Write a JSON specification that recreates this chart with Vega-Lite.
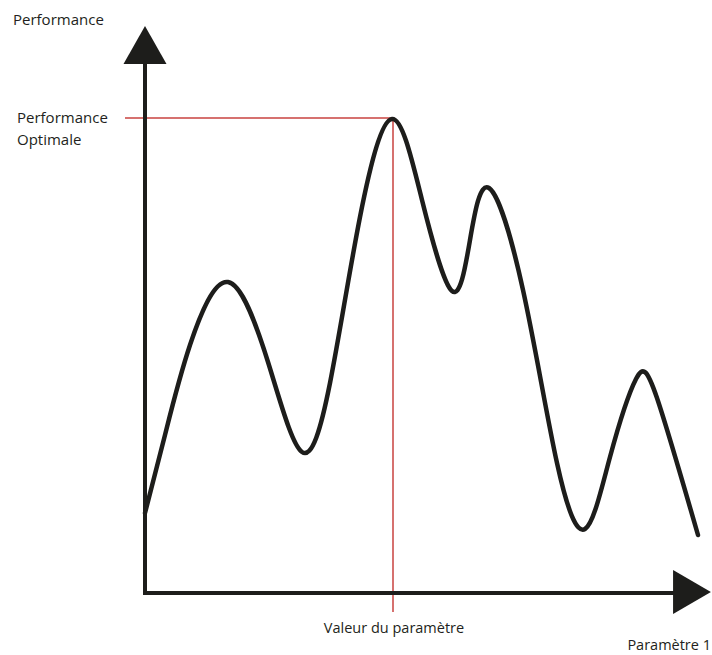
{
  "$schema": "https://vega.github.io/schema/vega-lite/v6.json",
  "width": 712,
  "height": 655,
  "autosize": "none",
  "padding": 0,
  "background": "white",
  "config": {"view": {"stroke": null}},
  "datasets": {
    "curve": [
      {"x": 0, "y": 80}, {"x": 20, "y": 158}, {"x": 45, "y": 248}, {"x": 83, "y": 311},
      {"x": 123, "y": 231}, {"x": 157, "y": 141}, {"x": 185, "y": 210}, {"x": 215, "y": 376},
      {"x": 247, "y": 474}, {"x": 277, "y": 393}, {"x": 307, "y": 302}, {"x": 325, "y": 353},
      {"x": 344, "y": 405}, {"x": 378, "y": 303}, {"x": 412, "y": 130}, {"x": 440, "y": 64},
      {"x": 465, "y": 136}, {"x": 491, "y": 214}, {"x": 512, "y": 195},
      {"x": 553, "y": 58}
    ],
    "guides": [
      {"x": -20, "x2": 248, "y": 475, "y2": 475},
      {"x": 248, "x2": 248, "y": 475, "y2": -19}
    ],
    "axes": [
      {"x": 0, "x2": 0, "y": 0, "y2": 531},
      {"x": 0, "x2": 530, "y": 0, "y2": 0}
    ],
    "arrowUp": [{"x": 0, "y": 548}],
    "arrowRight": [{"x": 547, "y": 1}],
    "labelsLeft": [
      {"x": -132, "y": 568, "label": ["Performance"]},
      {"x": -128, "y": 470, "label": ["Performance", "Optimale"]}
    ],
    "labelsCenter": [{"x": 249, "y": -40, "label": "Valeur du paramètre"}],
    "labelsRight": [{"x": 566, "y": -57, "label": "Paramètre 1"}]
  },
  "encoding": {
    "x": {"field": "x", "type": "quantitative", "scale": {"domain": [-145, 567], "nice": false, "zero": false}, "axis": null},
    "y": {"field": "y", "type": "quantitative", "scale": {"domain": [-62, 593], "nice": false, "zero": false}, "axis": null}
  },
  "layer": [
    {
      "data": {"name": "guides"},
      "mark": {"type": "rule", "color": "#c9423f", "strokeWidth": 1.5},
      "encoding": {"x2": {"field": "x2"}, "y2": {"field": "y2"}}
    },
    {
      "data": {"name": "axes"},
      "mark": {"type": "rule", "color": "#1d1d1b", "strokeWidth": 4, "strokeCap": "square"},
      "encoding": {"x2": {"field": "x2"}, "y2": {"field": "y2"}}
    },
    {
      "data": {"name": "curve"},
      "mark": {"type": "line", "interpolate": "natural", "color": "#1d1d1b", "strokeWidth": 4.5, "strokeCap": "round", "strokeJoin": "round"},
      "encoding": {"order": {"field": "x", "type": "quantitative"}}
    },
    {
      "data": {"name": "arrowUp"},
      "mark": {"type": "point", "shape": "M0,-0.88L1,0.88L-1,0.88Z", "size": 1849, "filled": true, "color": "#1d1d1b", "opacity": 1, "strokeWidth": 0}
    },
    {
      "data": {"name": "arrowRight"},
      "mark": {"type": "point", "shape": "M-0.86,-1L0.86,0L-0.86,1Z", "size": 1936, "filled": true, "color": "#1d1d1b", "opacity": 1, "strokeWidth": 0}
    },
    {
      "data": {"name": "labelsLeft"},
      "mark": {"type": "text", "align": "left", "baseline": "alphabetic", "font": "Open Sans", "fontSize": 15, "lineHeight": 22, "color": "#231f20"},
      "encoding": {"text": {"field": "label"}}
    },
    {
      "data": {"name": "labelsCenter"},
      "mark": {"type": "text", "align": "center", "baseline": "alphabetic", "font": "Open Sans", "fontSize": 14.5, "color": "#231f20"},
      "encoding": {"text": {"field": "label"}}
    },
    {
      "data": {"name": "labelsRight"},
      "mark": {"type": "text", "align": "right", "baseline": "alphabetic", "font": "Open Sans", "fontSize": 14.5, "color": "#231f20"},
      "encoding": {"text": {"field": "label"}}
    }
  ]
}
